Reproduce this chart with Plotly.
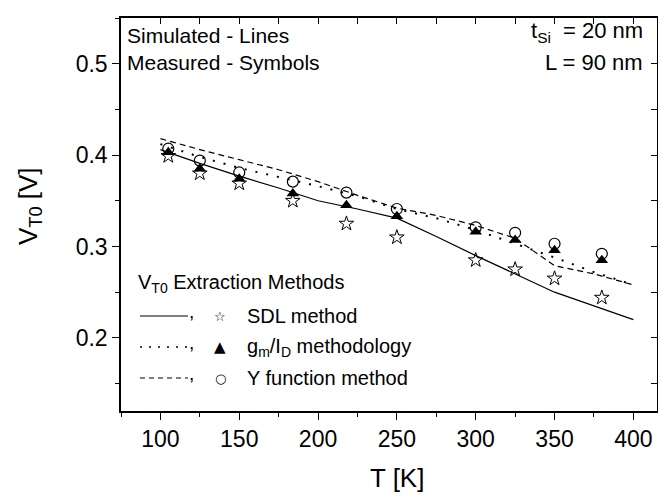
import plotly.graph_objects as go

# ---------------- data ----------------
T_meas = [105, 125, 150, 184, 218, 250, 300, 325, 350, 380]
V_sdl_meas = [0.399, 0.380, 0.369, 0.350, 0.325, 0.310, 0.285, 0.275, 0.265, 0.244]
V_gm_meas = [0.403, 0.385, 0.374, 0.358, 0.345, 0.333, 0.316, 0.307, 0.296, 0.285]
V_y_meas = [0.407, 0.394, 0.381, 0.371, 0.359, 0.341, 0.321, 0.315, 0.303, 0.292]

T_sim = [100, 125, 150, 175, 200, 225, 250, 275, 300, 325, 350, 375, 400]
V_sdl_sim = [0.406, 0.391, 0.377, 0.364, 0.350, 0.341, 0.331, 0.311, 0.290, 0.270, 0.250, 0.235, 0.220]
V_gm_sim = [0.412, 0.398, 0.386, 0.376, 0.366, 0.355, 0.341, 0.331, 0.318, 0.303, 0.288, 0.272, 0.258]
V_y_sim = [0.418, 0.406, 0.395, 0.384, 0.371, 0.356, 0.342, 0.334, 0.323, 0.309, 0.279, 0.270, 0.258]

legend_labels = ["SDL method", "g<sub>m</sub>/I<sub>D</sub> methodology", "Y function method"]
legend_symbols = ["\u2606", "\u25B2", "\u25CB"]

X_RANGE = [75, 415]
Y_RANGE = [0.12, 0.55]

FONT = "Liberation Sans, Arial, Helvetica, sans-serif"

# ---------------- layout geometry (pixels) ----------------
# the page body has an 8px margin, so the figure is shrunk by that amount
OFF = 8
W, H = 666 - OFF, 500 - OFF
# plot box in screenshot coordinates
SL, SR, ST, SB = 121, 657, 18, 411
ML, MR, MT, MB = SL - OFF, W - (SR - OFF), ST - OFF, H - (SB - OFF)
PW, PH = SR - SL, SB - ST


def px(x):
    return (x - SL) / PW


def py(y):
    return (SB - y) / PH


fig = go.Figure()

fig.add_trace(go.Scatter(x=T_sim, y=V_sdl_sim, mode="lines",
                         line=dict(color="black", width=1.2), showlegend=False))
fig.add_trace(go.Scatter(x=T_sim, y=V_gm_sim, mode="lines",
                         line=dict(color="black", width=2, dash="2px,9px"), showlegend=False))
fig.add_trace(go.Scatter(x=T_sim, y=V_y_sim, mode="lines",
                         line=dict(color="black", width=1.2, dash="6px,4px"), showlegend=False))

fig.add_trace(go.Scatter(x=T_meas, y=V_sdl_meas, mode="markers",
                         marker=dict(symbol="star-open", size=11, color="black",
                                     line=dict(width=1, color="black")), showlegend=False))
fig.add_trace(go.Scatter(x=T_meas, y=V_gm_meas, mode="markers",
                         marker=dict(symbol="triangle-up", size=11, color="black"), showlegend=False))
fig.add_trace(go.Scatter(x=T_meas, y=V_y_meas, mode="markers",
                         marker=dict(symbol="circle-open", size=11, color="black",
                                     line=dict(width=1.2, color="black")), showlegend=False))

# dummy trace for mirrored inner-tick axes
fig.add_trace(go.Scatter(x=[], y=[], xaxis="x2", yaxis="y2", showlegend=False))

axis_common = dict(showgrid=False, zeroline=False, linecolor="black", linewidth=1.5,
                   tickcolor="black", tickwidth=1.2, automargin=False)

fig.update_layout(
    width=W, height=H,
    margin=dict(l=ML, r=MR, t=MT, b=MB, autoexpand=False),
    paper_bgcolor="white", plot_bgcolor="white",
    font=dict(family=FONT, color="black"),
    showlegend=False,
    xaxis=dict(range=X_RANGE, showline=True, ticks="outside", ticklen=7,
               tick0=0, dtick=50, tickfont=dict(size=23),
               minor=dict(ticks="outside", ticklen=4, tick0=0, dtick=25, tickcolor="black", tickwidth=1.2),
               **axis_common),
    yaxis=dict(range=Y_RANGE, showline=True, ticks="outside", ticklen=7,
               tick0=0, dtick=0.1, tickformat=".1f", tickfont=dict(size=23),
               minor=dict(ticks="outside", ticklen=4, tick0=0, dtick=0.05, tickcolor="black", tickwidth=1.2),
               **axis_common),
    xaxis2=dict(range=X_RANGE, overlaying="x", side="top", showline=True, ticks="inside",
                ticklen=6, tick0=0, dtick=50, showticklabels=False,
                minor=dict(ticks="inside", ticklen=6, tick0=0, dtick=25, tickcolor="black", tickwidth=1.2),
                anchor="y2", **axis_common),
    yaxis2=dict(range=Y_RANGE, overlaying="y", side="right", showline=True, ticks="inside",
                ticklen=6, tick0=0, dtick=0.1, showticklabels=False,
                minor=dict(ticks="inside", ticklen=6, tick0=0, dtick=0.05, tickcolor="black", tickwidth=1.2),
                anchor="x2", **axis_common),
)

ann = []
# axis titles
ann.append(dict(x=px(397), y=py(478), text="T [K]", xanchor="center", yanchor="middle",
                font=dict(size=26)))
ann.append(dict(x=px(30), y=py(206), text="V<sub>T0</sub> [V]", xanchor="center", yanchor="middle",
                textangle=-90, font=dict(size=26)))
# top-left notes
ann.append(dict(x=px(125), y=py(36), text="Simulated - Lines", xanchor="left", yanchor="middle",
                font=dict(size=21)))
ann.append(dict(x=px(125), y=py(63), text="Measured - Symbols", xanchor="left", yanchor="middle",
                font=dict(size=21)))
# top-right notes
ann.append(dict(x=px(645), y=py(32), text="t<sub>Si</sub>  = 20 nm", xanchor="right", yanchor="middle",
                font=dict(size=22)))
ann.append(dict(x=px(645), y=py(63), text="L = 90 nm", xanchor="right", yanchor="middle",
                font=dict(size=22)))
# legend title
ann.append(dict(x=px(136), y=py(283), text="V<sub>T0</sub> Extraction Methods", xanchor="left",
                yanchor="middle", font=dict(size=20)))

rows_y = [316, 347, 378]
shapes = []
for i, (lab, sym) in enumerate(zip(legend_labels, legend_symbols)):
    yy = rows_y[i]
    shapes.append(dict(type="line", xref="paper", yref="paper", x0=px(140), x1=px(188),
                       y0=py(yy), y1=py(yy),
                       line=dict(color="black", width=1.6 if i == 1 else 1.1,
                                 dash=["solid", "2px,7px", "5px,4px"][i])))
    ann.append(dict(x=px(187), y=py(yy - 5), text=",", xanchor="left", yanchor="middle",
                    font=dict(size=19)))
    ann.append(dict(x=px(220), y=py(yy), text=sym, xanchor="center", yanchor="middle",
                    font=dict(size=13 if i != 1 else 15, family="DejaVu Sans")))
    ann.append(dict(x=px(245), y=py(yy), text=lab, xanchor="left", yanchor="middle",
                    font=dict(size=20)))

for a in ann:
    a.update(xref="paper", yref="paper", showarrow=False)
    a.setdefault("font", {})
    a["font"].setdefault("family", FONT)
    a["font"].setdefault("color", "black")

fig.update_layout(annotations=ann, shapes=shapes)

fig.write_html("out.html")
